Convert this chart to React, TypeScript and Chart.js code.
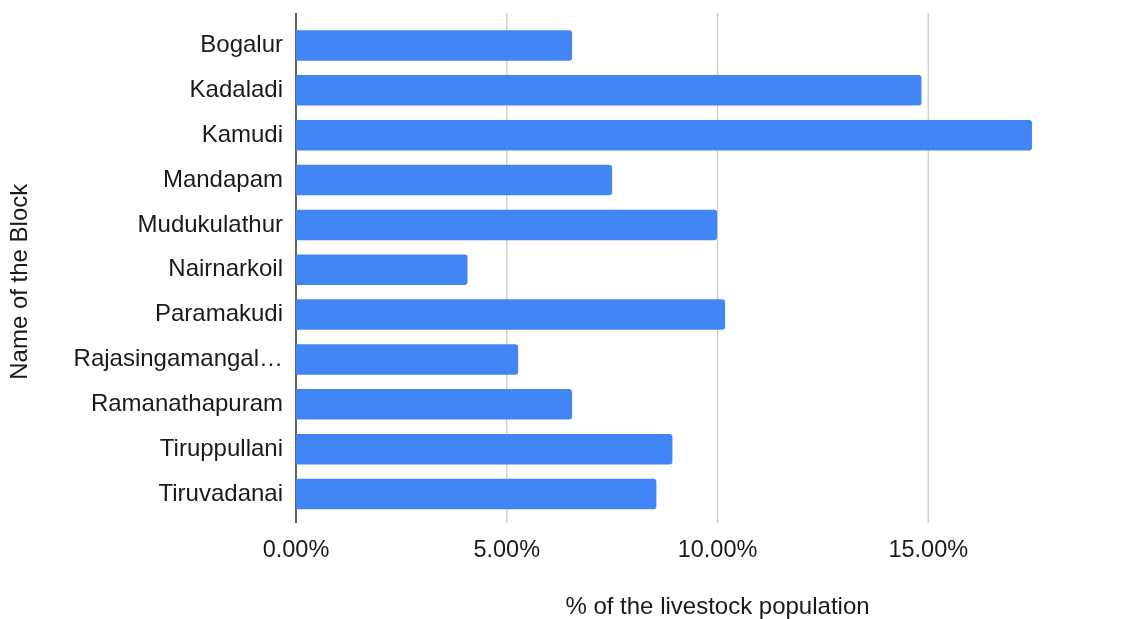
import React, { useEffect, useRef } from "react";
import { Chart, registerables } from "chart.js";

Chart.register(...registerables);

// Blocks and their share of the district's livestock population (%)
const blocks = [
  "Bogalur",
  "Kadaladi",
  "Kamudi",
  "Mandapam",
  "Mudukulathur",
  "Nairnarkoil",
  "Paramakudi",
  "Rajasingamangalam",
  "Ramanathapuram",
  "Tiruppullani",
  "Tiruvadanai",
];
const livestockShare = [6.55, 14.84, 17.46, 7.5, 9.99, 4.07, 10.18, 5.27, 6.55, 8.93, 8.55];
const xTickValues = [0, 5, 10, 15];
const xMax = 20;
const xAxisTitle = "% of the livestock population";
const yAxisTitle = "Name of the Block";

const FONT = "'Liberation Sans', Arial, Helvetica, sans-serif";
const TEXT = "#1a1a1a";
const BAR = "#4285F4";

// Shortens long block names the way the axis shows them
const shorten = (s: string) => (s.length > 15 ? s.slice(0, 15) + "\u2026" : s);

// Gridlines, the zero baseline and both axis titles
const framePlugin = {
  id: "frame",
  beforeDatasetsDraw(chart: any) {
    const { ctx, chartArea, scales } = chart;
    const x = scales.x;
    const top = chartArea.top - 10;
    const bottom = chartArea.bottom + 6.5;
    ctx.save();
    ctx.strokeStyle = "#cccccc";
    ctx.lineWidth = 1.3;
    [...xTickValues, xMax].forEach((v) => {
      if (v === 0) return;
      const px = x.getPixelForValue(v);
      ctx.beginPath();
      ctx.moveTo(px, top);
      ctx.lineTo(px, bottom);
      ctx.stroke();
    });
    ctx.strokeStyle = "#333333";
    ctx.lineWidth = 1.5;
    const zx = x.getPixelForValue(0);
    ctx.beginPath();
    ctx.moveTo(zx, top);
    ctx.lineTo(zx, bottom);
    ctx.stroke();
    ctx.restore();
  },
  afterDraw(chart: any) {
    const { ctx, chartArea } = chart;
    ctx.save();
    ctx.fillStyle = TEXT;
    ctx.font = `24px ${FONT}`;
    ctx.textAlign = "center";
    ctx.textBaseline = "middle";
    ctx.fillText(xAxisTitle, (chartArea.left + chartArea.right) / 2, chartArea.bottom + 91);
    ctx.translate(20, (chartArea.top + chartArea.bottom) / 2 + 12);
    ctx.rotate(-Math.PI / 2);
    ctx.fillText(yAxisTitle, 0, 0);
    ctx.restore();
  },
};

export default function App() {
  const canvasRef = useRef<HTMLCanvasElement | null>(null);

  useEffect(() => {
    if (!canvasRef.current) return;
    const chart = new Chart(canvasRef.current, {
      type: "bar",
      data: {
        labels: blocks,
        datasets: [
          {
            data: livestockShare,
            backgroundColor: BAR,
            borderRadius: 3,
            categoryPercentage: 1,
            barPercentage: 0.68,
          },
        ],
      },
      options: {
        indexAxis: "y",
        responsive: false,
        animation: false,
        devicePixelRatio: 1,
        layout: { padding: { top: 23, right: 21, bottom: 0, left: 0 } },
        plugins: {
          legend: { display: false },
          tooltip: { enabled: false },
        },
        scales: {
          x: {
            type: "linear",
            min: 0,
            max: xMax,
            afterBuildTicks(scale: any) {
              scale.ticks = xTickValues.map((v) => ({ value: v }));
            },
            afterFit(scale: any) {
              scale.height = 102.5;
              scale.paddingLeft = 0;
              scale.paddingRight = 0;
            },
            grid: { display: false, drawTicks: false },
            border: { display: false },
            ticks: {
              padding: 20,
              color: TEXT,
              font: { family: FONT, size: 23.5 },
              maxRotation: 0,
              autoSkip: false,
              callback: (v: any) => Number(v).toFixed(2) + "%",
            },
          },
          y: {
            afterFit(scale: any) {
              scale.width = 296;
              scale.paddingTop = 0;
              scale.paddingBottom = 0;
            },
            grid: { display: false, drawTicks: false },
            border: { display: false },
            ticks: {
              padding: 13,
              color: TEXT,
              font: { family: FONT, size: 24 },
              autoSkip: false,
              callback: (_v: any, i: number) => shorten(blocks[i]),
            },
          },
        },
      },
      plugins: [framePlugin],
    });
    return () => chart.destroy();
  }, []);

  return (
    <div
      style={{
        position: "fixed",
        left: 0,
        top: 0,
        width: 1129,
        height: 619,
        overflow: "hidden",
        background: "#ffffff",
      }}
    >
      <canvas ref={canvasRef} width={1160} height={619} style={{ display: "block" }} />
    </div>
  );
}
